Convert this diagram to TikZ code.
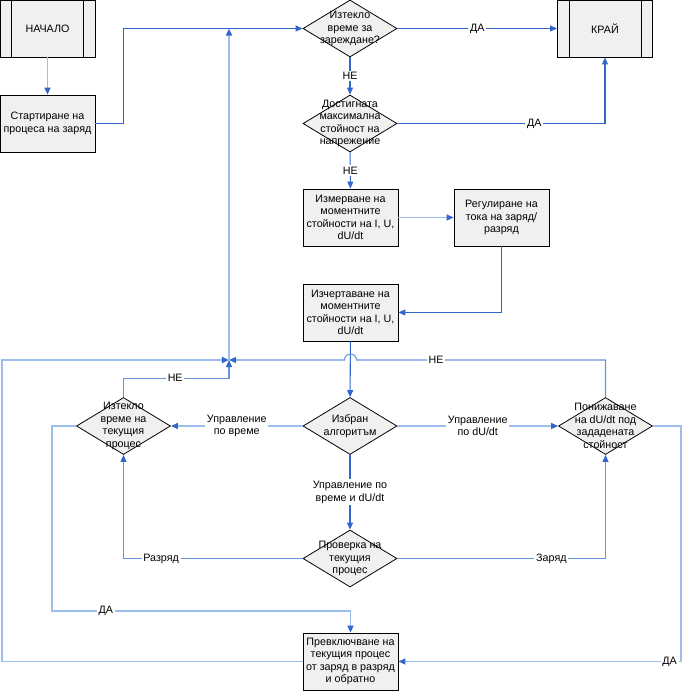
\documentclass[tikz,border=0pt]{standalone}
\usepackage{fontspec}
\setmainfont{Liberation Sans}
\usepackage{xcolor}
\usepackage{tikz}
\usetikzlibrary{shapes.geometric, arrows.meta, positioning, calc}

\definecolor{flowblue}{RGB}{51,102,204}
\definecolor{loopblue}{RGB}{105,148,218}
\definecolor{paleblue}{RGB}{155,190,238}
\definecolor{boxgray}{RGB}{240,240,240}

\begin{document}
\begin{tikzpicture}[
    every node/.style={font=\fontsize{6.1}{7.1}\selectfont},
    box/.style={
        draw=black, line width=0.45pt, fill=boxgray,
        align=center, minimum width=1.9cm, minimum height=1.14cm, inner sep=1pt
    },
    termbox/.style={
        box, path picture={
            \draw ([xshift=0.23cm]path picture bounding box.north west) -- ([xshift=0.23cm]path picture bounding box.south west);
            \draw ([xshift=-0.23cm]path picture bounding box.north east) -- ([xshift=-0.23cm]path picture bounding box.south east);
        }
    },
    decision/.style={
        diamond, draw=black, line width=0.45pt, fill=boxgray,
        minimum width=1.88cm, minimum height=1.14cm, inner sep=0pt
    },
    dtext/.style={align=center, inner sep=0pt},
    flow/.style={
        -{Triangle[length=4pt, width=3.4pt, color=flowblue]}, draw=flowblue, line width=0.6pt
    },
    loopflow/.style={flow, draw=loopblue},
    backflow/.style={flow, draw=paleblue, line width=1.1pt},
    edgelabel/.style={fill=white, inner sep=1pt, align=center}
]
\useasboundingbox (0,0) rectangle (13.64,-13.82);

% Start and charge loop
\node[termbox] (start) at (0.95, -0.57) {НАЧАЛО};
\node[box] (charge) at (0.95, -2.47) {Стартиране на\\процеса на заряд};
\node[decision, label={[dtext]center:{Изтекло\\време за\\зареждане?}}] (timeup) at (7.0, -0.57) {};
\node[termbox] (finish) at (12.1, -0.57) {КРАЙ};
\node[decision, label={[dtext]center:{Достигната\\максимална\\стойност на\\напрежение}}] (vmax) at (7.0, -2.47) {};
\node[box] (measure) at (7.01, -4.35) {Измерване на\\моментните\\стойности на I, U,\\dU/dt};
\node[box] (regulate) at (10.03, -4.35) {Регулиране на\\тока на заряд/\\разряд};
\node[box] (plot) at (7.01, -6.25) {Изчертаване на\\моментните\\стойности на I, U,\\dU/dt};
\coordinate (merge) at (4.58, -7.2);
\coordinate (mtop) at (merge |- timeup.west);

% Algorithm choice
\node[decision, label={[dtext]center:{Избран\\алгоритъм}}] (algo) at (7.0, -8.52) {};
\node[decision, label={[dtext]center:{Изтекло\\време на\\текущия\\процес}}] (tcur) at (2.47, -8.52) {};
\node[decision, label={[dtext]center:{Понижаване\\на dU/dt под\\зададената\\стойност}}] (dudt) at (12.11, -8.52) {};
\node[decision, label={[dtext]center:{Проверка на\\текущия\\процес}}] (check) at (7.0, -11.17) {};
\node[box] (switch) at (7.01, -13.23) {Превключване на\\текущия процес\\от заряд в разряд\\и обратно};

% Main flow
\draw[backflow] (start) -- (charge);
\draw[flow] (charge.east) -- ++(0.56,0) |- (timeup.west);
\draw[flow] (timeup) -- node[edgelabel] {ДА} (finish);
\draw[flow] (timeup) -- node[edgelabel] {НЕ} (vmax);
\draw[flow] (vmax.east) -| node[edgelabel, pos=0.33] {ДА} (finish.south);
\draw[flow] (vmax) -- node[edgelabel] {НЕ} (measure);
\draw[backflow] (measure) -- (regulate);
\draw[flow] (regulate.south) |- (plot.east);
\draw[flow] (plot) -- (algo);

% Return lines
\draw[loopflow] (dudt.north) |- node[edgelabel, pos=0.84] {НЕ} ($(plot.south |- merge)+(0.12,0)$)
    arc[start angle=0, end angle=180, radius=0.12] -- (merge);
\draw[loopflow] (tcur.north) -- ++(0,0.38) -| node[edgelabel, pos=0.245] {НЕ} (merge);
\draw[backflow] (switch.west) -- ++(-6.02,0) |- (merge);
\draw[backflow] (merge) -- (mtop);

% Branches
\draw[backflow] (algo) -- node[edgelabel] {Управление\\по време} (tcur);
\draw[backflow] (algo) -- node[edgelabel] {Управление\\по dU/dt} (dudt);
\draw[flow] (algo) -- node[edgelabel] {Управление по\\време и dU/dt} (check);
\draw[loopflow] (check.west) -| node[edgelabel, pos=0.395] {Разряд} (tcur.south);
\draw[loopflow] (check.east) -| node[edgelabel, pos=0.37] {Заряд} (dudt.south);
\draw[backflow] (tcur.west) -- ++(-0.48,0) |- node[edgelabel, pos=0.59] {ДА} ([yshift=0.44cm]switch.north) -- (switch.north);
\draw[backflow] (dudt.east) -- ++(0.56,0) |- node[edgelabel, pos=0.52] {ДА} (switch.east);

\end{tikzpicture}
\end{document}
